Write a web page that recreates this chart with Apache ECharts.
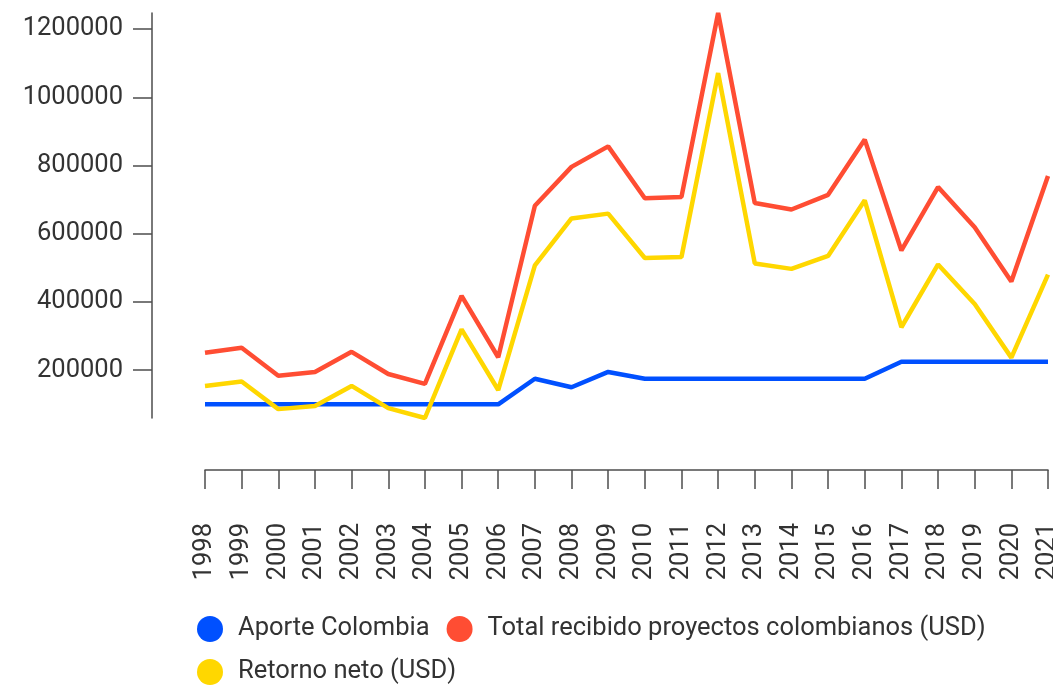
<!DOCTYPE html>
<html>
<head>
<meta charset="utf-8">
<script src="https://cdn.jsdelivr.net/npm/echarts@6/dist/echarts.min.js"></script>
<style>
  html, body { margin: 0; padding: 0; background: #fff; }
  #chart { width: 1053px; height: 685px; }
</style>
</head>
<body>
<div id="chart"></div>
<script>
// Años de la serie
const years = ['1998','1999','2000','2001','2002','2003','2004','2005','2006','2007','2008','2009',
               '2010','2011','2012','2013','2014','2015','2016','2017','2018','2019','2020','2021'];

// Aporte de Colombia (USD)
const aporteColombia = [100000,100000,100000,100000,100000,100000,100000,100000,100000,175000,150000,195000,
                        175000,175000,175000,175000,175000,175000,175000,225000,225000,225000,225000,225000];

// Total recibido por proyectos colombianos (USD)
const totalRecibido = [251000,266000,184000,195000,254000,189000,160000,418000,238000,682000,796000,856000,
                       704000,708000,1247000,690000,671000,714000,876000,551000,737000,619000,460000,769000];

// Retorno neto (USD)
const retornoNeto = [154000,167000,86000,95000,154000,89000,60000,320000,142000,507000,645000,659000,
                     529000,532000,1071000,513000,497000,535000,698000,326000,510000,394000,237000,480000];

// Marcas del eje vertical
const yTicks = [200000,400000,600000,800000,1000000,1200000];

const seriesNames = ['Aporte Colombia', 'Total recibido proyectos colombianos (USD)', 'Retorno neto (USD)'];
const seriesColors = ['#0050FF', '#FF4D33', '#FFD700'];
const seriesData = [aporteColombia, totalRecibido, retornoNeto];

const font = 'Roboto, "Noto Sans", sans-serif';
const fontSize = 25.5;
const textColor = '#333333';
const axisColor = '#4d4d4d';

const chart = echarts.init(document.getElementById('chart'), null, { renderer: 'canvas' });

chart.setOption({
  animation: false,
  backgroundColor: '#ffffff',
  textStyle: { fontFamily: font },
  grid: { left: 205, right: 5, top: 13, bottom: 267, containLabel: false, outerBoundsMode: 'none' },
  legend: {
    left: 197,
    top: 616,
    width: 820,
    padding: 0,
    itemGap: 17,
    itemWidth: 26,
    itemHeight: 26,
    icon: 'circle',
    selectedMode: false,
    textStyle: {
      fontFamily: font,
      fontSize: fontSize,
      color: textColor,
      padding: [0, 4, 0, 10]
    },
    data: seriesNames
  },
  xAxis: {
    type: 'category',
    data: years,
    boundaryGap: false,
    offset: 52,
    axisLine: { show: true, lineStyle: { color: axisColor, width: 1.5 } },
    axisTick: { show: true, length: 19, interval: 0, lineStyle: { color: axisColor, width: 1.5 } },
    axisLabel: {
      interval: 0,
      rotate: 90,
      margin: 53,
      fontFamily: font,
      fontSize: fontSize,
      color: textColor
    },
    splitLine: { show: false }
  },
  yAxis: {
    type: 'value',
    min: 'dataMin',
    max: 'dataMax',
    offset: 53,
    axisLine: { show: true, lineStyle: { color: axisColor, width: 1.5 } },
    axisTick: { show: true, length: 19, customValues: yTicks, lineStyle: { color: axisColor, width: 1.5 } },
    axisLabel: {
      customValues: yTicks,
      margin: 29,
      fontFamily: font,
      fontSize: fontSize,
      color: textColor,
      formatter: function (v) { return String(v); }
    },
    splitLine: { show: false }
  },
  series: seriesData.map(function (d, i) {
    return {
      name: seriesNames[i],
      type: 'line',
      data: d,
      showSymbol: false,
      symbol: 'none',
      color: seriesColors[i],
      lineStyle: { color: seriesColors[i], width: 4.5 },
      itemStyle: { color: seriesColors[i] }
    };
  })
});
</script>
</body>
</html>
